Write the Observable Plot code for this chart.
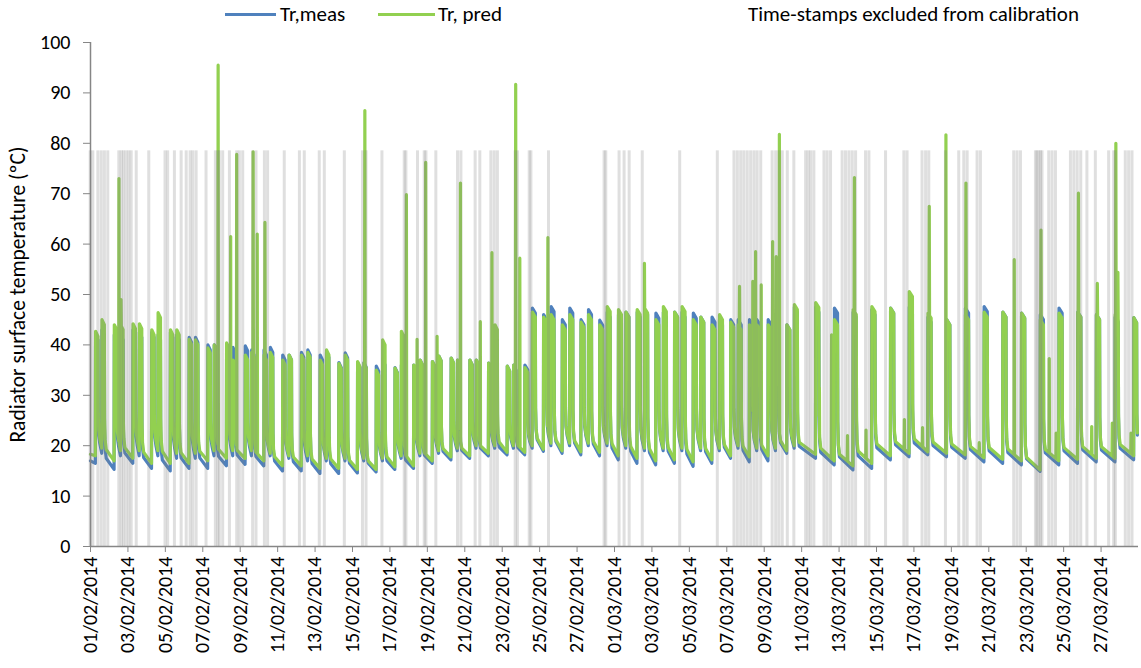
<!DOCTYPE html>
<html><head><meta charset="utf-8">
<script src="https://cdn.jsdelivr.net/npm/d3@7"></script>
<script src="https://cdn.jsdelivr.net/npm/@observablehq/plot@0.6"></script>
<style>
body{margin:0;background:#fff;font-family:Carlito,Lato,sans-serif;}
#legend{position:relative;width:1141px;height:30px;font-size:21px;color:#000;}
#legend .sw{position:absolute;top:13px;height:3px;}
#legend .lt{position:absolute;top:2px;line-height:24px;white-space:nowrap;}
svg g[aria-label="y-axis tick label"]{font-size:20px;}
svg g[aria-label="x-axis tick label"]{font-size:20px;}
svg g[aria-label="y-axis tick"], svg g[aria-label="x-axis tick"]{stroke:#868686;}
</style></head><body>
<div id="legend">
  <div class="sw" style="left:225px;width:51px;background:#4f81bd"></div>
  <div class="lt" style="left:280px">Tr,meas</div>
  <div class="sw" style="left:378px;width:57px;background:#92d050"></div>
  <div class="lt" style="left:438px">Tr, pred</div>
  <div class="lt" style="left:748px">Time-stamps excluded from calibration</div>
</div>
<div id="chart"></div>
<script>
// ---------- DATA (days since 01/02/2014 00:00) ----------
const startDate = "2014-02-01";
const endDay = 56;
const yTicks = [0,10,20,30,40,50,60,70,80,90,100];
const tickDates = ["2014-02-01","2014-02-03","2014-02-05","2014-02-07","2014-02-09","2014-02-11","2014-02-13","2014-02-15","2014-02-17","2014-02-19","2014-02-21","2014-02-23","2014-02-25","2014-02-27","2014-03-01","2014-03-03","2014-03-05","2014-03-07","2014-03-09","2014-03-11","2014-03-13","2014-03-15","2014-03-17","2014-03-19","2014-03-21","2014-03-23","2014-03-25","2014-03-27"];

// heating events
const evStart = [0.26,0.60,1.26,1.60,2.26,2.60,3.26,3.60,4.26,4.60,5.26,5.60,6.26,6.60,7.26,7.60,8.26,8.60,9.26,9.60,10.26,10.60,11.26,11.60,12.26,12.60,13.26,13.60,14.26,14.60,15.26,15.60,16.26,16.60,17.26,17.60,18.26,18.60,19.26,19.60,20.26,20.60,21.26,21.60,22.26,22.60,
23.20,23.60,24.20,24.60,25.20,25.60,26.20,26.60,27.20,27.60,28.20,28.60,29.20,29.60,30.20,30.60,31.20,31.60,32.20,32.60,33.20,33.60,34.20,34.60,35.20,35.60,36.20,36.60,37.20,37.60,
38.74,39.74,40.74,41.74,42.74,43.74,44.74,45.74,46.74,47.74,48.74,49.74,50.74,51.74,52.74,53.74,54.74,55.74];
const evEnd = [0.40,0.74,1.40,1.74,2.40,2.74,3.40,3.74,4.40,4.74,5.40,5.74,6.40,6.74,7.40,7.74,8.40,8.74,9.40,9.74,10.40,10.74,11.40,11.74,12.40,12.74,13.40,13.74,14.40,14.74,15.40,15.74,16.40,16.74,17.40,17.74,18.40,18.74,19.40,19.74,20.40,20.74,21.40,21.74,22.40,22.74,
23.37,23.77,24.37,24.77,25.37,25.77,26.37,26.77,27.37,27.77,28.37,28.77,29.37,29.77,30.37,30.77,31.37,31.77,32.37,32.77,33.37,33.77,34.37,34.77,35.37,35.77,36.37,36.77,37.37,37.77,
38.92,39.92,40.92,41.92,42.92,43.92,44.92,45.92,46.92,47.92,48.92,49.92,50.92,51.92,52.92,53.92,54.92,55.90];
const peakMeas = [42,43,42,42,43,42.5,42.5,42,42.5,42,41.5,41.5,40,40,39.5,39.5,39.8,39,39,39.5,38,38,38.5,39,38,38.5,36.5,38.4,36.5,36.5,35.8,37,35.5,36,36,37,36.7,37.8,37.4,37,37,37,36.4,37.5,35.8,36,
36,47.3,46,47.6,45,47.3,45,47,44.9,46.5,46,46.5,46.5,47,46.3,46.5,46.5,46.5,46.3,45.5,45.5,45,45,45,45,45,45,44.5,44,47.5,
47.5,47.3,46.5,47,47.3,47.5,45.5,45,47.3,47.6,46.5,46.3,46,47.3,46.5,46,45.5,45.4];
const peakPred = [42.7,45,44,44,44.2,44.2,43,46.4,43,43,41.1,41,39.4,40,40.4,37,38,38.5,38,38.5,37,38,38,38.5,37,39,36.3,38,36.7,36.4,35,41,35.4,42.7,36,37,36.7,37.8,37.4,37,37,37,36.4,44,35.8,36,
35.5,46.5,45.5,46,44,46,44.5,46,44,47.6,47,46.5,47,47.3,45,47.6,46.5,47.6,45,45.5,44,46,44.5,44,44,44,44,44,44,48,
48.4,45,47,47.6,47.3,50.6,46.3,45,46,46.5,46.5,46.3,45,46.3,46.5,46,46,45.4];
const baseMeas = [16.5,18.5,15.3,18,16.5,18,15.5,18,15,17.5,15.5,17.5,15.5,18,16,18,16.3,18,16,18,15,17.5,15,17,14.5,17,14.5,17,14.6,17,14.8,17,15.3,17.5,15.5,18,16.5,18.5,17.2,19,17.5,19.5,18,19.5,18.2,19.5,
18.2,19.5,18.9,20,18.5,20,18.2,20,18,20,17.2,19.5,16.5,19,16.2,19,16.5,19,15.9,19,16.5,19,17.5,19.5,16.8,19,17,19,18.5,19.5,
17.5,16.2,15.2,15.5,17.2,17.8,18.2,17.8,17.5,16.8,16.5,16.2,14.9,16.2,16.5,16.8,16.8,17.2];
const basePred = [18,19.5,17,19,17.5,19,16.5,19,16.5,18.5,16.5,18.5,17,19,17.5,19,17.5,19,17,18.5,16,18,16,18,15.5,17.5,15.5,17.5,15.3,17.5,15.3,17.5,15.8,18,16,18.5,17,19,17.8,19.5,18,20,18.5,20,18.7,20,
18.7,20,19.3,20.5,19,20.5,18.8,20.5,18.7,20.5,18,20,17.5,19.5,17,19.5,17.2,19.5,16.8,19.5,17.2,19.5,18,20,17.8,19.5,18,19.5,19,20,
18.3,17,16,16.5,18,18.5,18.8,18.5,18.2,17.6,17.3,17,15.2,17,17.3,17.5,17.5,18];
const startMeas = 17, startPred = 18.3, endMeas = 18, endPred = 18.5;

// short predicted spikes
const spikeDay = [1.52,1.63,6.82,7.49,7.81,8.69,8.91,9.32,14.66,16.88,17.45,17.91,18.52,19.77,20.83,21.45,22.72,22.94,24.44,29.60,34.68,35.39,35.54,35.84,36.45,36.64,36.81,38.95,39.60,40.45,40.82,41.44,43.49,44.46,44.82,45.71,46.78,47.49,49.36,50.79,51.23,51.60,52.79,53.50,53.80,54.60,54.79,54.90,55.60];
const spikeValue = [73,49,95.5,61.5,77.8,78.3,62,64.3,86.5,69.8,41.1,76.2,41.7,72.1,44.6,58.3,91.7,57.2,61.3,56.2,51.6,52.6,58.5,51.9,60.5,57.5,81.8,31.5,42,22,73.2,23.1,25.2,23.6,67.5,81.7,72.1,20.6,56.9,62.8,37.3,22.5,70.1,23.8,52.2,24.5,80,54.4,22.5];

// time-stamps excluded from calibration
const excludedLevel = 78.5;
const excludedDays = [0.01,0.15,0.42,0.60,0.77,0.95,1.54,1.67,1.79,1.93,2.07,2.20,2.47,3.14,4.01,4.15,4.51,4.87,5.14,5.35,5.49,5.67,6.20,6.70,6.83,6.91,7.09,7.45,7.84,7.98,8.16,8.69,8.87,9.32,9.49,10.38,11.19,11.45,12.25,12.52,13.59,14.56,14.75,15.60,16.79,16.88,17.50,17.86,17.95,18.48,19.64,19.82,20.58,20.83,21.42,21.60,21.77,22.72,22.84,23.47,23.56,24.50,27.47,27.56,28.27,28.54,28.81,29.51,31.51,33.52,34.41,34.59,34.77,34.94,35.12,35.30,35.48,35.65,35.84,36.45,36.64,36.81,36.99,37.26,37.61,38.24,38.38,38.51,38.68,39.22,39.39,39.57,40.19,40.37,40.55,40.73,40.91,41.44,41.62,42.51,43.49,43.66,44.46,44.65,44.82,45.71,46.42,46.69,46.87,47.40,47.58,49.36,49.54,49.72,50.52,50.60,50.69,50.79,50.87,51.23,51.41,51.59,52.39,52.57,52.75,52.94,53.27,53.72,54.43,54.70,54.79,55.32,55.50,55.68];

// ---------- BUILD ----------
const t0 = Date.parse(startDate + "T00:00:00Z");
const toDate = d => new Date(t0 + d * 86400000);

function buildSeries(peaks, bases, startVal, endBase, sDays, sVals) {
  const pts = [[0, startVal]];
  const n = evStart.length;
  for (let i = 0; i < n; i++) {
    const s = evStart[i], f = evEnd[i], p = peaks[i], b = bases[i];
    const nb = i + 1 < n ? bases[i + 1] : endBase;
    const ns = i + 1 < n ? evStart[i + 1] : endDay;
    pts.push([s, b], [s + 0.012, p], [f, p - 1], [f + 0.012, nb + 0.3 * (p - nb)]);
    const a = f + 0.04, c = f + 0.10;
    if (a < ns - 0.01) pts.push([a, nb + 0.15 * (p - nb)]);
    if (c < ns - 0.01) pts.push([c, nb + 0.08 * (p - nb)]);
  }
  pts.sort((u, v) => u[0] - v[0]);
  const valueAt = t => {
    const i = d3.bisector(q => q[0]).left(pts, t);
    if (i <= 0) return pts[0][1];
    if (i >= pts.length) return pts[pts.length - 1][1];
    const [x0, y0] = pts[i - 1], [x1, y1] = pts[i];
    return y0 + (y1 - y0) * (t - x0) / (x1 - x0);
  };
  const extra = [];
  sDays.forEach((t, k) => {
    extra.push([t - 0.015, valueAt(t - 0.015)], [t, sVals[k]], [t + 0.015, valueAt(t + 0.015)]);
  });
  const all = pts.concat(extra).filter(q => q[0] <= 55.95).sort((u, v) => u[0] - v[0]);
  return all.map(([d, v]) => ({date: toDate(d), v}));
}

const measData = buildSeries(peakMeas, baseMeas, startMeas, endMeas, [], []);
const predData = buildSeries(peakPred, basePred, startPred, endPred, spikeDay, spikeValue);
const bars = excludedDays.map(d => ({d}));

const chart = Plot.plot({
  width: 1141, height: 638,
  marginLeft: 90, marginRight: 3, marginTop: 12, marginBottom: 122,
  style: {fontFamily: "Carlito, Lato, sans-serif", fontSize: "20px", color: "#000", background: "#fff", overflow: "visible"},
  x: {type: "utc", domain: [toDate(0), toDate(endDay)], ticks: tickDates.map(s => new Date(s + "T00:00:00Z")),
      tickFormat: d3.utcFormat("%d/%m/%Y"), tickRotate: -90, tickSize: 6, tickPadding: 4, label: null},
  y: {domain: [0, 100], ticks: yTicks, tickSize: 7, tickPadding: 13, label: null},
  marks: [
    Plot.line(measData, {x: "date", y: "v", stroke: "#4f81bd", strokeWidth: 3.2}),
    Plot.line(predData, {x: "date", y: "v", stroke: "#92d050", strokeWidth: 3.2}),
    Plot.rect(bars, {x1: b => toDate(b.d - 0.08), x2: b => toDate(b.d + 0.08), y1: 0, y2: excludedLevel, fill: "#7f7f7f", fillOpacity: 0.25}),
    Plot.ruleY([0], {stroke: "#868686", strokeWidth: 1.5}),
    Plot.ruleX([toDate(0)], {y1: 0, y2: 100, stroke: "#868686", strokeWidth: 1.5}),
    Plot.text(["Radiator surface temperature (ºC)"], {frameAnchor: "left", textAnchor: "middle", dx: -72, rotate: -90, fontSize: 21.5})
  ]
});
document.getElementById("chart").appendChild(chart);
</script>
</body></html>
